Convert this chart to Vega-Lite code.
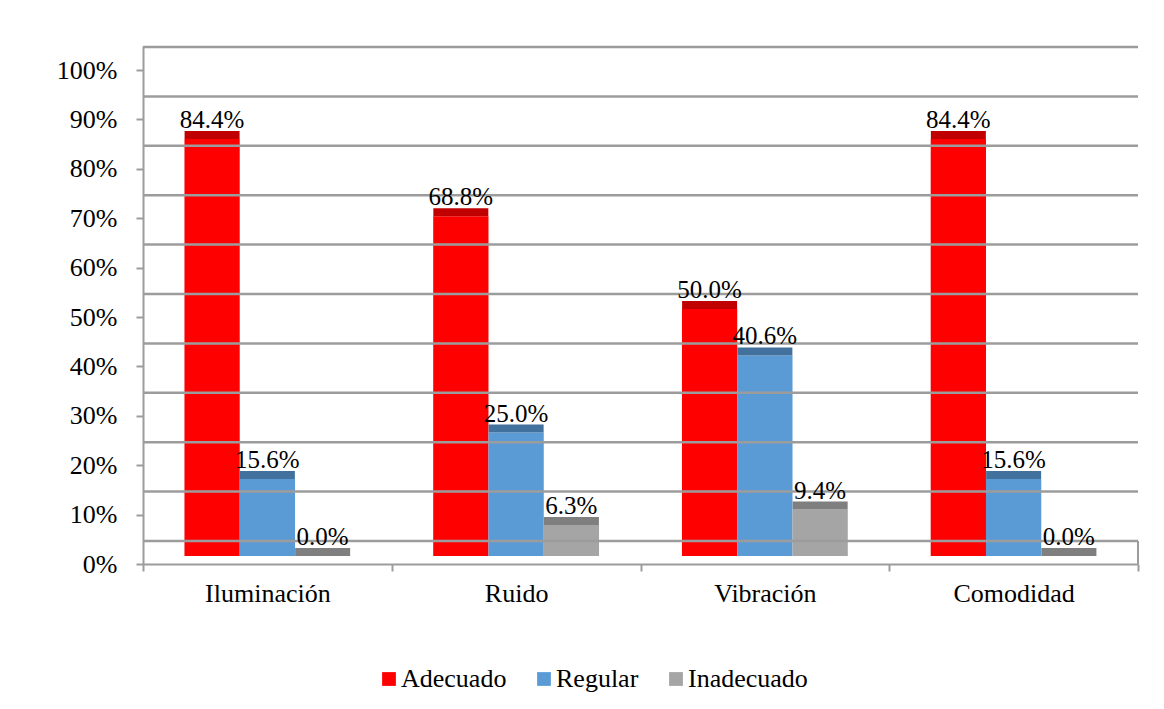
{
  "$schema": "https://vega.github.io/schema/vega-lite/v6.json",
  "autosize": {"type": "none"},
  "padding": {"left": 143, "top": 46, "right": 26, "bottom": 145},
  "width": 995,
  "height": 518,
  "background": "white",
  "config": {
    "view": {"stroke": null},
    "font": "Liberation Serif"
  },
  "datasets": {
    "main": [
      {"cat": "Iluminación", "serie": "Adecuado", "v": 0.844},
      {"cat": "Iluminación", "serie": "Regular", "v": 0.156},
      {"cat": "Iluminación", "serie": "Inadecuado", "v": 0.0},
      {"cat": "Ruido", "serie": "Adecuado", "v": 0.688},
      {"cat": "Ruido", "serie": "Regular", "v": 0.25},
      {"cat": "Ruido", "serie": "Inadecuado", "v": 0.063},
      {"cat": "Vibración", "serie": "Adecuado", "v": 0.5},
      {"cat": "Vibración", "serie": "Regular", "v": 0.406},
      {"cat": "Vibración", "serie": "Inadecuado", "v": 0.094},
      {"cat": "Comodidad", "serie": "Adecuado", "v": 0.844},
      {"cat": "Comodidad", "serie": "Regular", "v": 0.156},
      {"cat": "Comodidad", "serie": "Inadecuado", "v": 0.0}
    ],
    "grid": [
      {"g": 0}, {"g": 0.1}, {"g": 0.2}, {"g": 0.3}, {"g": 0.4}, {"g": 0.5},
      {"g": 0.6}, {"g": 0.7}, {"g": 0.8}, {"g": 0.9}, {"g": 1.0}
    ]
  },
  "layer": [
    {
      "data": {"name": "main"},
      "mark": {"type": "bar", "yOffset": -8},
      "encoding": {
        "x": {
          "field": "cat", "type": "nominal",
          "sort": ["Iluminación", "Ruido", "Vibración", "Comodidad"],
          "scale": {"paddingInner": 0, "paddingOuter": 0},
          "axis": {
            "title": null, "labelAngle": 0, "labelFont": "Liberation Serif", "labelFontSize": 26,
            "labelColor": "black", "domainColor": "#9c9c9c", "domainWidth": 2,
            "tickColor": "#9c9c9c", "tickWidth": 2, "tickSize": 7, "tickBand": "extent",
            "labelPadding": 9, "grid": false
          }
        },
        "xOffset": {
          "field": "serie", "type": "nominal",
          "sort": ["Adecuado", "Regular", "Inadecuado"],
          "scale": {"paddingInner": 0, "paddingOuter": 0.75}
        },
        "y": {
          "field": "v", "type": "quantitative",
          "scale": {"domain": [0, 1.0486], "nice": false, "zero": true},
          "axis": {
            "title": null, "values": [0, 0.1, 0.2, 0.3, 0.4, 0.5, 0.6, 0.7, 0.8, 0.9, 1.0],
            "format": ".0%", "grid": false, "labelFont": "Liberation Serif", "labelFontSize": 26,
            "labelColor": "black", "domainColor": "#9c9c9c", "domainWidth": 2,
            "tickColor": "#9c9c9c", "tickWidth": 2, "tickSize": 7, "labelPadding": 19
          }
        },
        "color": {
          "field": "serie", "type": "nominal",
          "scale": {"domain": ["Adecuado", "Regular", "Inadecuado"], "range": ["#ff0000", "#5b9bd5", "#a5a5a5"]},
          "legend": {
            "title": null, "orient": "none", "direction": "horizontal", "legendX": 233, "legendY": 620,
            "symbolType": "square", "symbolSize": 190, "symbolStrokeWidth": 0,
            "labelFont": "Liberation Serif", "labelFontSize": 26, "labelColor": "black",
            "labelOffset": -1, "columnPadding": 24
          }
        }
      }
    },
    {
      "data": {"name": "grid"},
      "mark": {"type": "rule", "color": "#9c9c9c", "strokeWidth": 2.5, "yOffset": -23},
      "encoding": {
        "y": {"field": "g", "type": "quantitative"}
      }
    },
    {
      "data": {"name": "grid"},
      "transform": [{"filter": "datum.g == 0"}],
      "mark": {"type": "rule", "color": "#9c9c9c", "strokeWidth": 2, "y2Offset": -23},
      "encoding": {
        "x": {"datum": "Comodidad", "bandPosition": 1},
        "y": {"field": "g", "type": "quantitative"},
        "y2": {"field": "g"}
      }
    },
    {
      "data": {"name": "main"},
      "mark": {"type": "tick", "thickness": 8, "size": 55, "yOffset": -12, "opacity": 1},
      "encoding": {
        "x": {"field": "cat", "type": "nominal", "sort": ["Iluminación", "Ruido", "Vibración", "Comodidad"]},
        "xOffset": {"field": "serie", "type": "nominal", "sort": ["Adecuado", "Regular", "Inadecuado"]},
        "y": {"field": "v", "type": "quantitative"},
        "fill": {
          "field": "serie", "type": "nominal",
          "scale": {"domain": ["Adecuado", "Regular", "Inadecuado"], "range": ["#c00000", "#41719c", "#7f7f7f"]},
          "legend": null
        }
      }
    },
    {
      "data": {"name": "main"},
      "mark": {"type": "text", "dy": -19, "baseline": "alphabetic", "font": "Liberation Serif", "fontSize": 25, "color": "black"},
      "encoding": {
        "x": {"field": "cat", "type": "nominal", "sort": ["Iluminación", "Ruido", "Vibración", "Comodidad"]},
        "xOffset": {"field": "serie", "type": "nominal", "sort": ["Adecuado", "Regular", "Inadecuado"]},
        "y": {"field": "v", "type": "quantitative"},
        "text": {"field": "v", "type": "quantitative", "format": ".1%"}
      }
    }
  ]
}
